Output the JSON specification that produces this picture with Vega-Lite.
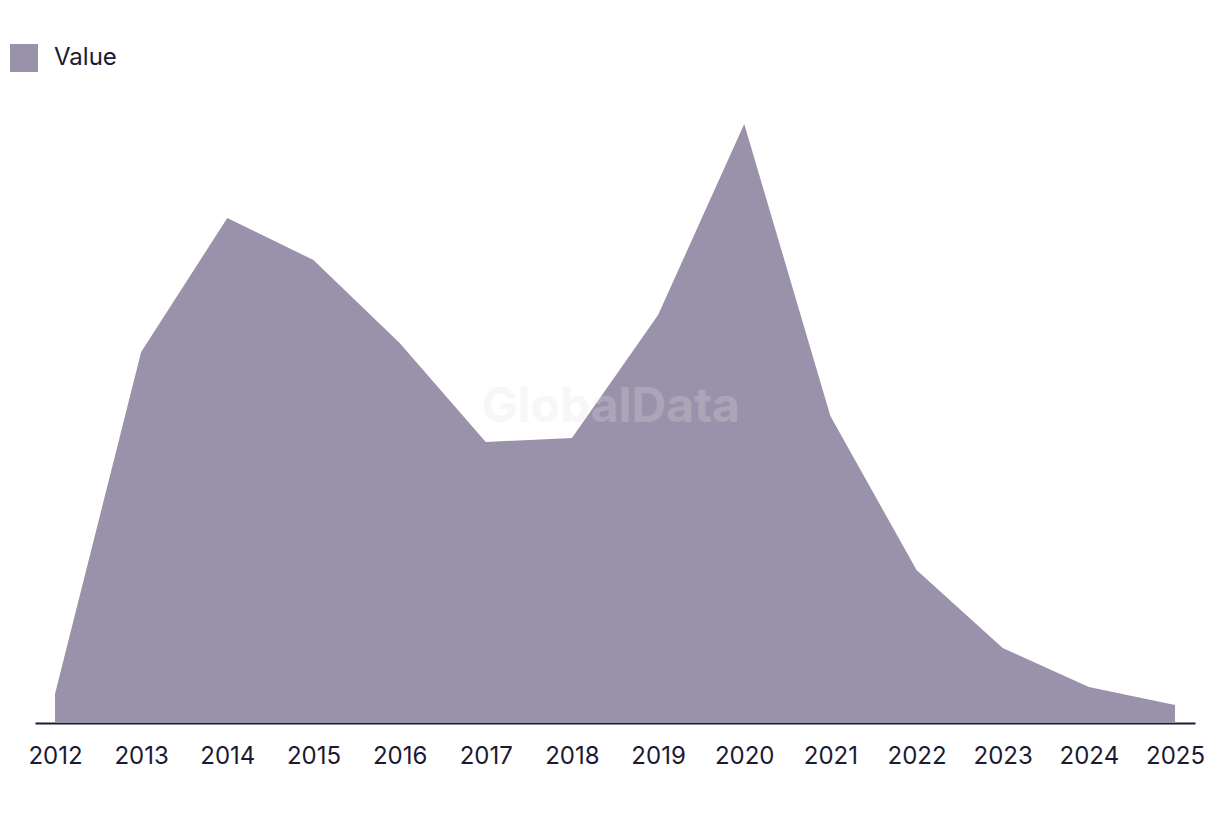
{
  "$schema": "https://vega.github.io/schema/vega-lite/v6.json",
  "width": 1160,
  "height": 660,
  "autosize": {"type": "none"},
  "padding": {"left": 35, "top": 63, "right": 25, "bottom": 91},
  "background": "white",
  "config": {"view": {"stroke": null}, "font": "Inter"},
  "datasets": {
    "series": [
      {"year": 2012, "value": 29, "series": "Value"},
      {"year": 2013, "value": 371, "series": "Value"},
      {"year": 2014, "value": 505, "series": "Value"},
      {"year": 2015, "value": 463, "series": "Value"},
      {"year": 2016, "value": 380, "series": "Value"},
      {"year": 2017, "value": 281, "series": "Value"},
      {"year": 2018, "value": 285, "series": "Value"},
      {"year": 2019, "value": 408, "series": "Value"},
      {"year": 2020, "value": 599, "series": "Value"},
      {"year": 2021, "value": 307, "series": "Value"},
      {"year": 2022, "value": 153, "series": "Value"},
      {"year": 2023, "value": 75, "series": "Value"},
      {"year": 2024, "value": 36, "series": "Value"},
      {"year": 2025, "value": 18, "series": "Value"}
    ],
    "mark": [{"label": "GlobalData", "x": 2018.45, "y": 315}]
  },
  "layer": [
    {
      "data": {"name": "series"},
      "mark": {"type": "area", "opacity": 1},
      "encoding": {
        "x": {
          "field": "year", "type": "quantitative",
          "scale": {"domain": [2011.768, 2025.232], "nice": false, "zero": false},
          "axis": {
            "values": [2012, 2013, 2014, 2015, 2016, 2017, 2018, 2019, 2020, 2021, 2022, 2023, 2024, 2025],
            "format": "d", "title": null, "grid": false, "ticks": false,
            "domainColor": "#1c1a33", "domainWidth": 2,
            "labelFontSize": 24, "labelColor": "#1c1a33", "labelPadding": 21, "labelFont": "Inter"
          }
        },
        "y": {
          "field": "value", "type": "quantitative",
          "scale": {"domain": [0, 660], "nice": false},
          "axis": null
        },
        "color": {
          "field": "series", "type": "nominal",
          "scale": {"range": ["#9a91aa"]},
          "legend": {
            "title": null, "orient": "none", "legendX": -25, "legendY": -19,
            "symbolType": "square", "symbolSize": 784, "symbolStrokeWidth": 0, "symbolOpacity": 1,
            "labelFontSize": 24, "labelColor": "#1c1a33", "labelOffset": 16, "labelFont": "Inter"
          }
        }
      }
    },
    {
      "data": {"name": "mark"},
      "mark": {"type": "text", "fontSize": 48, "fontWeight": "bold", "color": "#e0e0e0", "opacity": 0.25, "font": "Inter"},
      "encoding": {
        "x": {"field": "x", "type": "quantitative"},
        "y": {"field": "y", "type": "quantitative"},
        "text": {"field": "label"}
      }
    }
  ]
}
